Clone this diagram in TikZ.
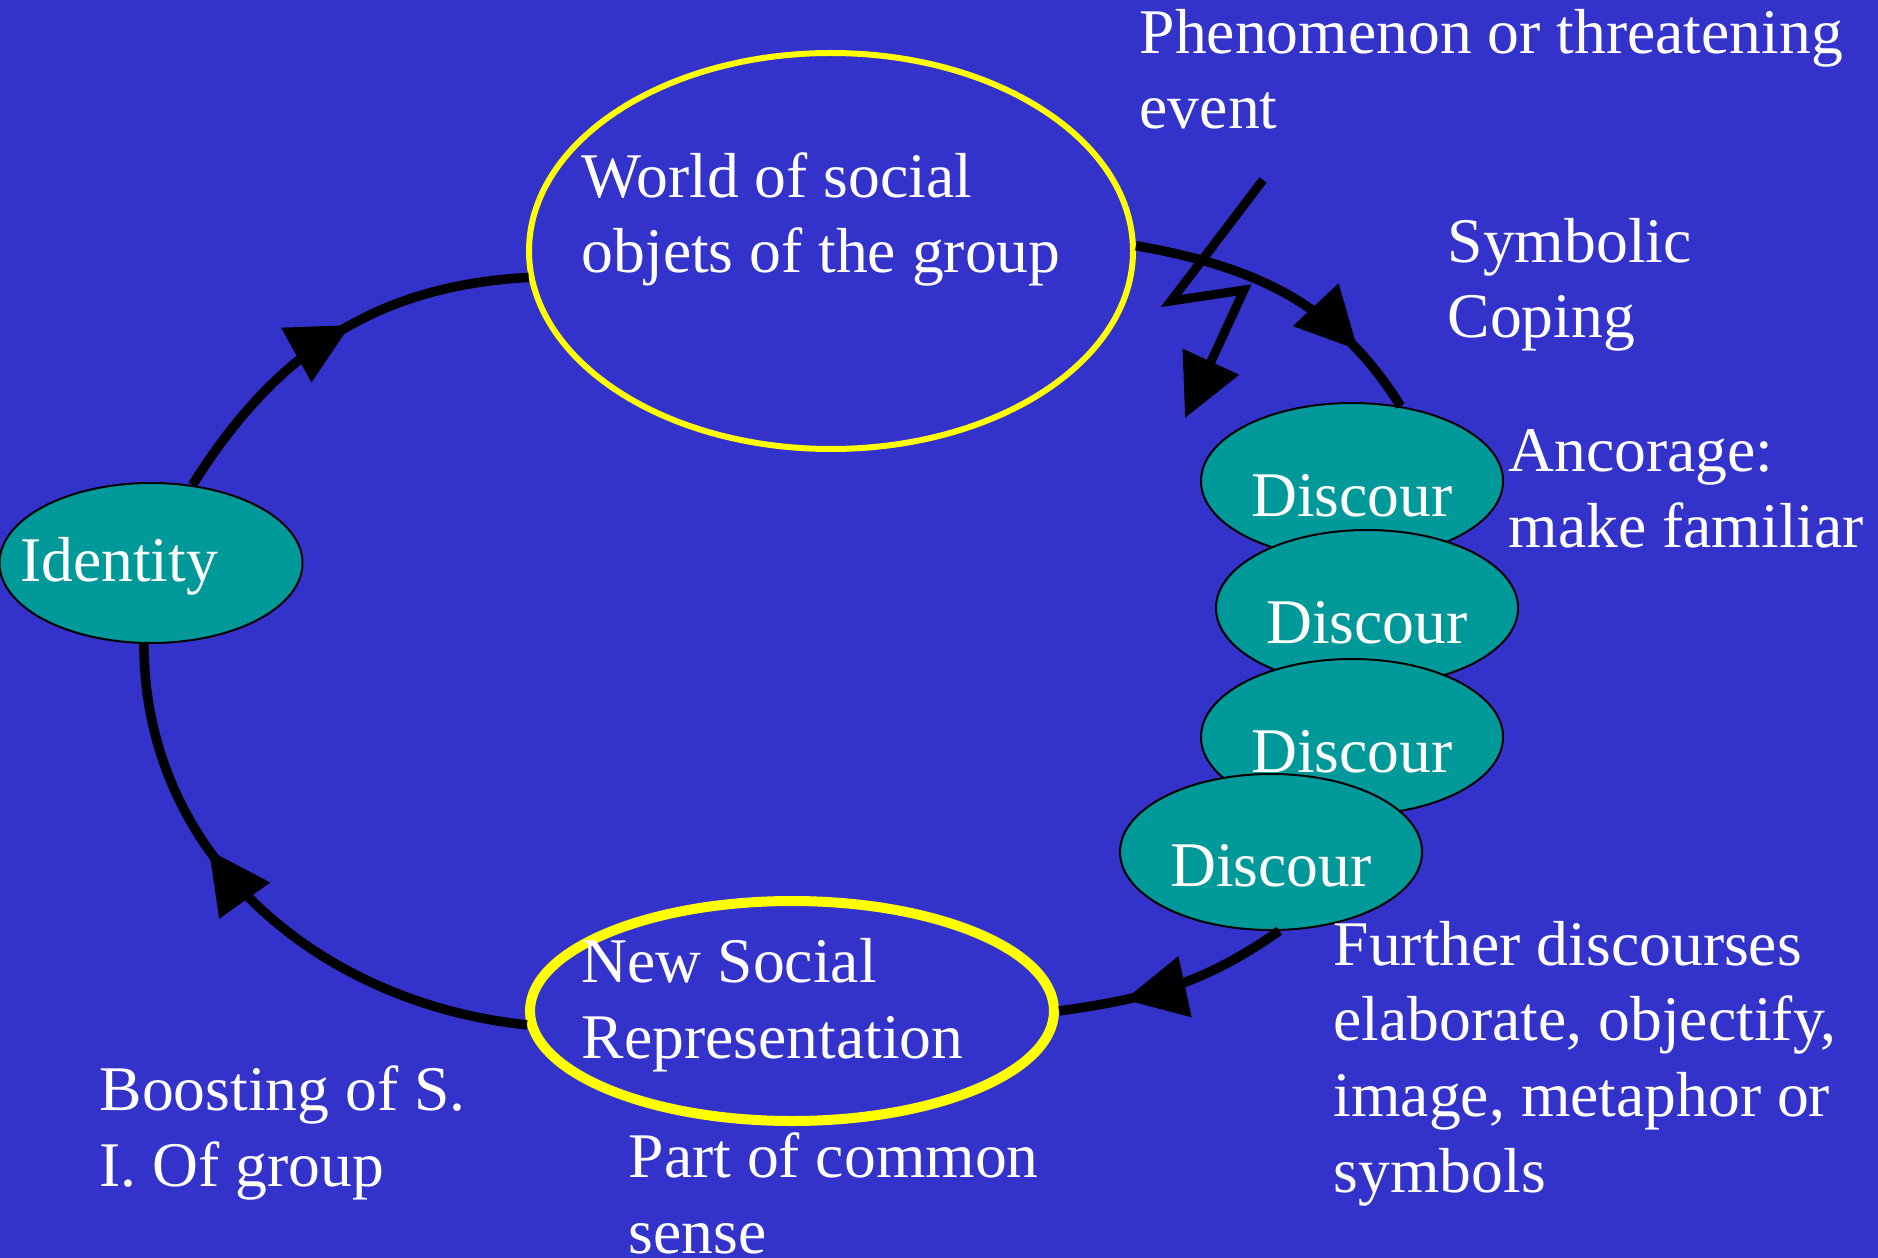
\documentclass[tikz,border=0pt]{standalone}
\usepackage{fontspec}
\setmainfont{Liberation Serif}
\usetikzlibrary{arrows.meta,shapes.geometric,decorations.markings}
\definecolor{slideblue}{HTML}{3333CC}
\definecolor{discteal}{HTML}{009999}
\definecolor{ringyellow}{HTML}{FFFF00}

\begin{document}
\begin{tikzpicture}[
    x=0.1mm, y=0.1mm,
    every node/.style={font=\fontsize{18.1pt}{21.5pt}\selectfont, text=white},
    ring/.style={ellipse, draw=ringyellow, line width=0.6mm, inner sep=0pt},
    disc/.style={ellipse, draw=black, line width=0.2mm, fill=discteal, inner sep=0pt, minimum width=30.2mm, minimum height=15.6mm},
    dlabel/.style={inner sep=0pt, yshift=-1.45mm},
    txt/.style={anchor=base west, inner sep=0pt, align=left},
    flow/.style={line width=0.95mm, postaction={decorate}, decoration={markings, mark=at position #1 with {\arrow{Triangle[length=6.2mm, width=6mm]}}}},
    bolt/.style={line width=0.9mm, -{Triangle[length=6.2mm, width=6mm]}}
  ]
    \fill[slideblue] (0,0) rectangle (1878,-1258);
    \useasboundingbox (0,0) rectangle (1878,-1258);

    % rings
    \node[ring, minimum width=60.4mm, minimum height=39.6mm] (world) at (831,-251) {};
    \node[ring, line width=1mm, minimum width=52.4mm, minimum height=22mm] (newrep) at (792,-1011) {};

    % teal ellipses
    \node[disc, minimum width=30.3mm, minimum height=16mm, label={[inner sep=0pt, xshift=-3.2mm, yshift=-0.35mm]center:Identity}] (identity) at (151,-563) {};
    \node[disc, label={[dlabel]center:Discour}] (d1) at (1352,-481) {};
    \node[disc, label={[dlabel]center:Discour}] (d2) at (1367,-608) {};
    \node[disc, label={[dlabel]center:Discour}] (d3) at (1352,-737) {};
    \node[disc, label={[dlabel, yshift=0.1mm]center:Discour}] (d4) at (1271,-852) {};

    % texts (placed at the baseline of the last line)
    \node[txt] (worldtxt) at (581,-273) {World of social\\objets of the group};
    \node[txt] (newreptxt) at (581,-1058) {New Social\\Representation};
    \node[txt] (eventtxt) at (1139,-129) {Phenomenon or threatening\\event};
    \node[txt] (copingtxt) at (1447,-338) {Symbolic\\Coping};
    \node[txt] (ancortxt) at (1508,-547) {Ancorage:\\make familiar};
    \node[txt] (furthertxt) at (1333,-1192) {Further discourses\\elaborate, objectify,\\image, metaphor or\\symbols};
    \node[txt] (boosttxt) at (99,-1186) {Boosting of S.\\I. Of group};
    \node[txt] (commontxt) at (628,-1253) {Part of common\\sense};

    % cycle
    \draw[flow=0.55] (identity.62) to[out=58, in=183] (world.185);
    \draw[flow=0.78] (world.1) to[out=-10, in=122] (d1.57);
    \draw[flow=0.72] (d4.276) to[out=215, in=8] (newrep.east);
    \draw[flow=0.63] (newrep.183) to[out=174, in=-90] (identity.265);

    % threatening event
    \coordinate (bolttop) at (1263,-180);
    \coordinate (boltknee) at (1171,-301);
    \coordinate (boltelbow) at (1244,-290);
    \coordinate (bolttip) at (1185,-418);
    \draw[bolt] (bolttop) -- (boltknee) -- (boltelbow) -- (bolttip);
\end{tikzpicture}
\end{document}
